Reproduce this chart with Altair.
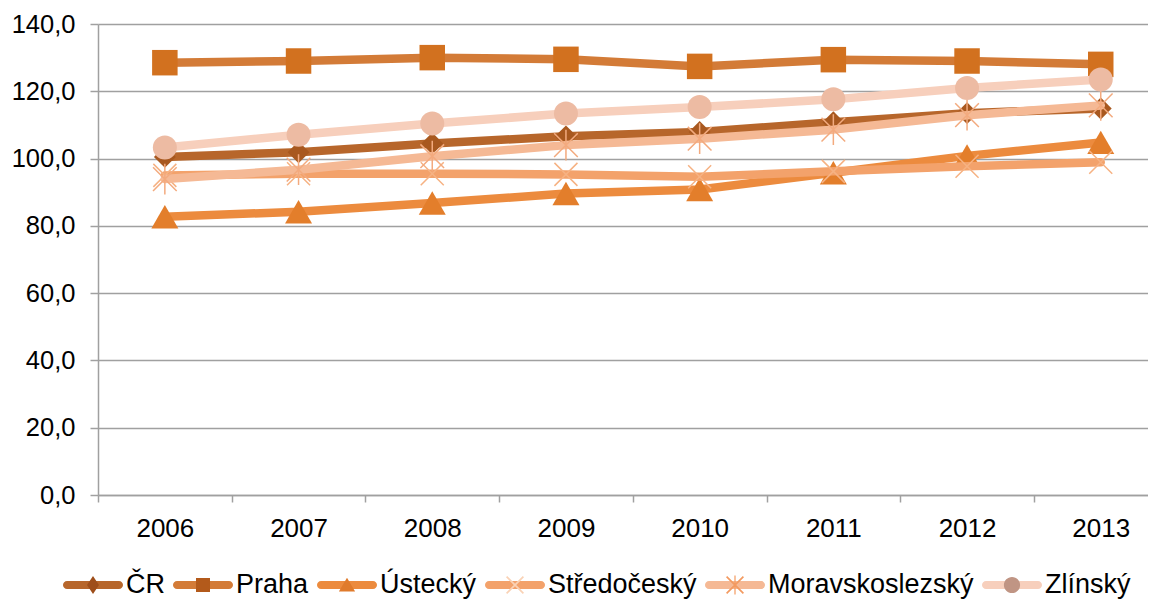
import altair as alt
import pandas as pd

years = [2006, 2007, 2008, 2009, 2010, 2011, 2012, 2013]
series_names = ["ČR", "Praha", "Ústecký", "Středočeský", "Moravskoslezský", "Zlínský"]

cr = [100.5, 101.9, 104.5, 106.6, 107.9, 110.8, 113.5, 114.9]
praha = [128.5, 129.0, 130.0, 129.5, 127.4, 129.4, 129.0, 128.0]
ustecky = [82.7, 84.2, 86.8, 89.6, 90.8, 95.8, 100.8, 104.8]
stredocesky = [95.0, 95.5, 95.5, 95.3, 94.6, 96.2, 97.7, 98.9]
moravskoslezsky = [93.9, 96.7, 100.7, 104.0, 105.9, 108.6, 112.9, 115.8]
zlinsky = [103.3, 107.1, 110.4, 113.4, 115.3, 117.6, 121.0, 123.5]
all_values = [cr, praha, ustecky, stredocesky, moravskoslezsky, zlinsky]

y_ticks = [0, 20, 40, 60, 80, 100, 120, 140]

line_colors = ["#B7662B", "#D37B37", "#EC8B3E", "#F3A26B", "#F5B995", "#F7CFBC"]
marker_colors = ["#A8581F", "#D2711F", "#E37E2B", "#F6B283", "#F3AA7E", "#EDBBA3"]
legend_marker_colors = ["#9E4E1A", "#B35A1B", "#E07B2C", "#FAD2B5", "#F39A60", "#C09584"]

X_PATH = "M-1,-1L1,1M-1,1L1,-1"
AST_PATH = "M-1,-1L1,1M-1,1L1,-1M0,-1.3L0,1.3"
marker_shapes = ["diamond", "square", "triangle-up", X_PATH, AST_PATH, "circle"]
marker_filled = [True, True, True, False, False, True]
marker_sizes = [480, 650, 729, 530, 560, 576]

BAR = "M-0.867,-0.133H0.867A0.133,0.133 0 0 1 0.867,0.133H-0.867A0.133,0.133 0 0 1 -0.867,-0.133Z"
EXT = "M-1,-0.001L-1,0.001M1,-0.001L1,0.001"
legend_bar_paths = [BAR] * 6
legend_marker_paths = [
    EXT + "M0,-0.3L0.2,0L0,0.3L-0.2,0Z",
    EXT + "M-0.233,-0.233H0.233V0.233H-0.233Z",
    EXT + "M0,-0.24L0.27,0.22H-0.27Z",
    EXT + "M-0.26,-0.3L0.3,0.26L0.26,0.3L-0.3,-0.26Z M0.26,-0.3L0.3,-0.26L-0.26,0.3L-0.3,0.26Z",
    EXT + "M-0.26,-0.3L0.3,0.26L0.26,0.3L-0.3,-0.26Z M0.26,-0.3L0.3,-0.26L-0.26,0.3L-0.3,0.26Z M-0.02,-0.32H0.02V0.32H-0.02Z",
    EXT + "M-0.27,0A0.27,0.27 0 1 1 0.27,0A0.27,0.27 0 1 1 -0.27,0Z",
]

rows = []
for name, vals in zip(series_names, all_values):
    for yr, v in zip(years, vals):
        rows.append({"year": yr, "series": name, "value": v})
df = pd.DataFrame(rows)

FONT = "Liberation Sans"
GRID = "#A0A0A0"
STEP = 133.7
WIDTH = 1050
HEIGHT = 471

x_enc = alt.X(
    "year:Q",
    scale=alt.Scale(domain=[2005.5, 2005.5 + WIDTH / STEP], nice=False, zero=False),
    axis=alt.Axis(
        values=years, title=None, grid=False, labelExpr="format(datum.value, 'd')",
        tickOffset=-STEP / 2, labelOffset=STEP / 2, tickSize=7, tickColor=GRID, tickWidth=1.5,
        domainColor=GRID, domainWidth=1.5, labelFont=FONT, labelFontSize=26,
        labelColor="black", labelPadding=13, labelFlush=False, labelOverlap=False,
    ),
)
y_enc = alt.Y(
    "value:Q",
    scale=alt.Scale(domain=[0, 140], nice=False),
    axis=alt.Axis(
        values=y_ticks, title=None, grid=True, gridColor=GRID, gridWidth=1.5,
        tickSize=8, tickColor=GRID, tickWidth=1.5, domainColor=GRID, domainWidth=1.5,
        labelFont=FONT, labelFontSize=25.5, labelColor="black", labelPadding=15,
        labelExpr="replace(format(datum.value, '.1f'), '.', ',')",
    ),
)

base = alt.Chart(df)
layers = []
for i, name in enumerate(series_names):
    sub = base.transform_filter(alt.datum.series == name)
    layers.append(
        sub.mark_line(color=line_colors[i], strokeWidth=8.5, strokeCap="round", strokeJoin="round")
        .encode(x=x_enc, y=y_enc)
    )
    if marker_filled[i]:
        pts = sub.mark_point(shape=marker_shapes[i], filled=True, color=marker_colors[i],
                             size=marker_sizes[i], opacity=1)
    else:
        pts = sub.mark_point(shape=marker_shapes[i], filled=False, color=marker_colors[i],
                             size=marker_sizes[i], strokeWidth=1.5, opacity=1)
    layers.append(pts.encode(x=x_enc, y=y_enc))


def leg(label_opacity):
    return alt.Legend(
        orient="none", legendX=-35, legendY=531, direction="horizontal", columns=6,
        title=None, symbolSize=3600, labelFont=FONT, labelFontSize=27, labelColor="black",
        labelOpacity=label_opacity, labelOffset=3, columnPadding=8, padding=0,
        symbolStrokeWidth=0, symbolOpacity=1, labelLimit=500,
    )


legend_a = base.mark_point(filled=True, opacity=0).encode(
    x=x_enc, y=y_enc,
    shape=alt.Shape("series:N", scale=alt.Scale(domain=series_names, range=legend_bar_paths), legend=leg(1)),
    color=alt.Color("series:N", scale=alt.Scale(domain=series_names, range=line_colors), legend=leg(1)),
)
legend_b = base.mark_point(filled=True, opacity=0).encode(
    x=x_enc, y=y_enc,
    shape=alt.Shape("series:N", scale=alt.Scale(domain=series_names, range=legend_marker_paths), legend=leg(0)),
    color=alt.Color("series:N", scale=alt.Scale(domain=series_names, range=legend_marker_colors), legend=leg(0)),
)

chart = (
    alt.layer(*layers, legend_a, legend_b)
    .resolve_scale(shape="independent", color="independent")
    .properties(
        width=WIDTH, height=HEIGHT,
        autosize=alt.AutoSizeParams(type="none"),
        padding={"left": 90, "top": 16, "right": 0, "bottom": 104},
        background="white",
    )
    .configure_view(stroke=None)
)

chart.save("out.html", embed_options={"renderer": "svg", "actions": False})
